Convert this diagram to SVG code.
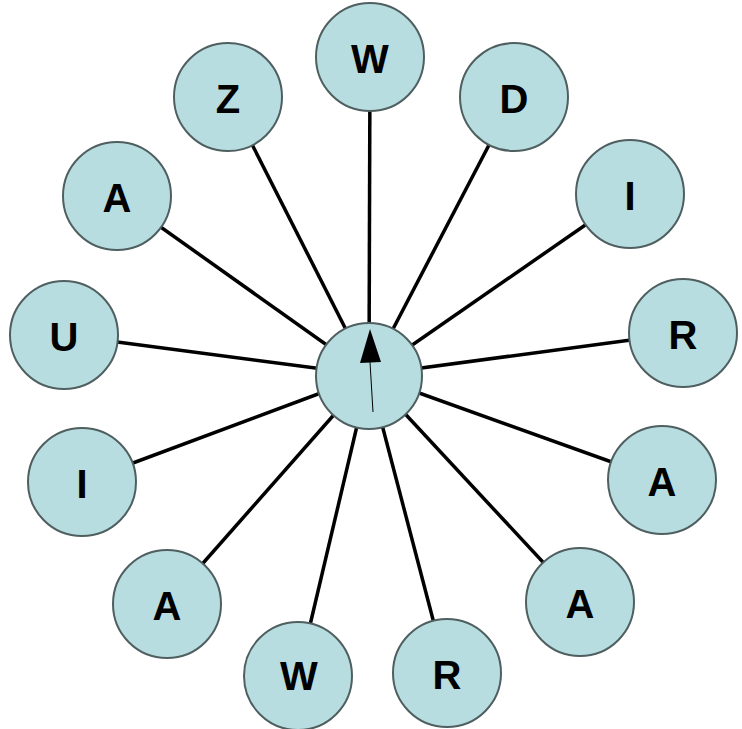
<svg xmlns="http://www.w3.org/2000/svg" width="742" height="729" viewBox="0 0 742 729">
<style>
.n{fill:#b8dde1;stroke:#4f5f60;stroke-width:2}
.t{font-family:"Liberation Sans",Arial,sans-serif;font-weight:bold;font-size:40px;fill:#000;text-anchor:middle;dominant-baseline:central}
.e{stroke:#000;stroke-width:3.5;fill:none}
</style>
<rect width="742" height="729" fill="#fff"/>
<g id="connectors">
<line class="e" x1="369" y1="375" x2="370" y2="57"/>
<line class="e" x1="369" y1="375" x2="514" y2="97"/>
<line class="e" x1="369" y1="375" x2="630" y2="194"/>
<line class="e" x1="369" y1="375" x2="683" y2="333"/>
<line class="e" x1="369" y1="375" x2="662" y2="480"/>
<line class="e" x1="369" y1="375" x2="580" y2="602"/>
<line class="e" x1="369" y1="375" x2="447" y2="673"/>
<line class="e" x1="369" y1="375" x2="298" y2="676"/>
<line class="e" x1="369" y1="375" x2="167" y2="604"/>
<line class="e" x1="369" y1="375" x2="82" y2="482"/>
<line class="e" x1="369" y1="375" x2="64" y2="335"/>
<line class="e" x1="369" y1="375" x2="117" y2="196"/>
<line class="e" x1="369" y1="375" x2="228" y2="97"/>
</g>
<g id="n1"><circle class="n" cx="370" cy="57" r="54"/><text class="t" x="370" y="59">W</text></g>
<g id="n2"><circle class="n" cx="514" cy="97" r="54"/><text class="t" x="514" y="99">D</text></g>
<g id="n3"><circle class="n" cx="630" cy="194" r="54"/><text class="t" x="630" y="196">I</text></g>
<g id="n4"><circle class="n" cx="683" cy="333" r="54"/><text class="t" x="683" y="335">R</text></g>
<g id="n5"><circle class="n" cx="662" cy="480" r="54"/><text class="t" x="662" y="482">A</text></g>
<g id="n6"><circle class="n" cx="580" cy="602" r="54"/><text class="t" x="580" y="604">A</text></g>
<g id="n7"><circle class="n" cx="447" cy="673" r="54"/><text class="t" x="447" y="675">R</text></g>
<g id="n8"><circle class="n" cx="298" cy="676" r="54"/><text class="t" x="299" y="676">W</text></g>
<g id="n9"><circle class="n" cx="167" cy="604" r="54"/><text class="t" x="167" y="606">A</text></g>
<g id="n10"><circle class="n" cx="82" cy="482" r="54"/><text class="t" x="82" y="484">I</text></g>
<g id="n11"><circle class="n" cx="64" cy="335" r="54"/><text class="t" x="64" y="337">U</text></g>
<g id="n12"><circle class="n" cx="117" cy="196" r="54"/><text class="t" x="117" y="198">A</text></g>
<g id="n13"><circle class="n" cx="228" cy="97" r="54"/><text class="t" x="228" y="99">Z</text></g>
<g id="center">
<circle class="n" cx="369" cy="376" r="53"/>
<line x1="370" y1="362" x2="373" y2="412" stroke="#000" stroke-width="1"/>
<polygon points="370,329 360,363 381,362" fill="#000"/>
</g>
</svg>
